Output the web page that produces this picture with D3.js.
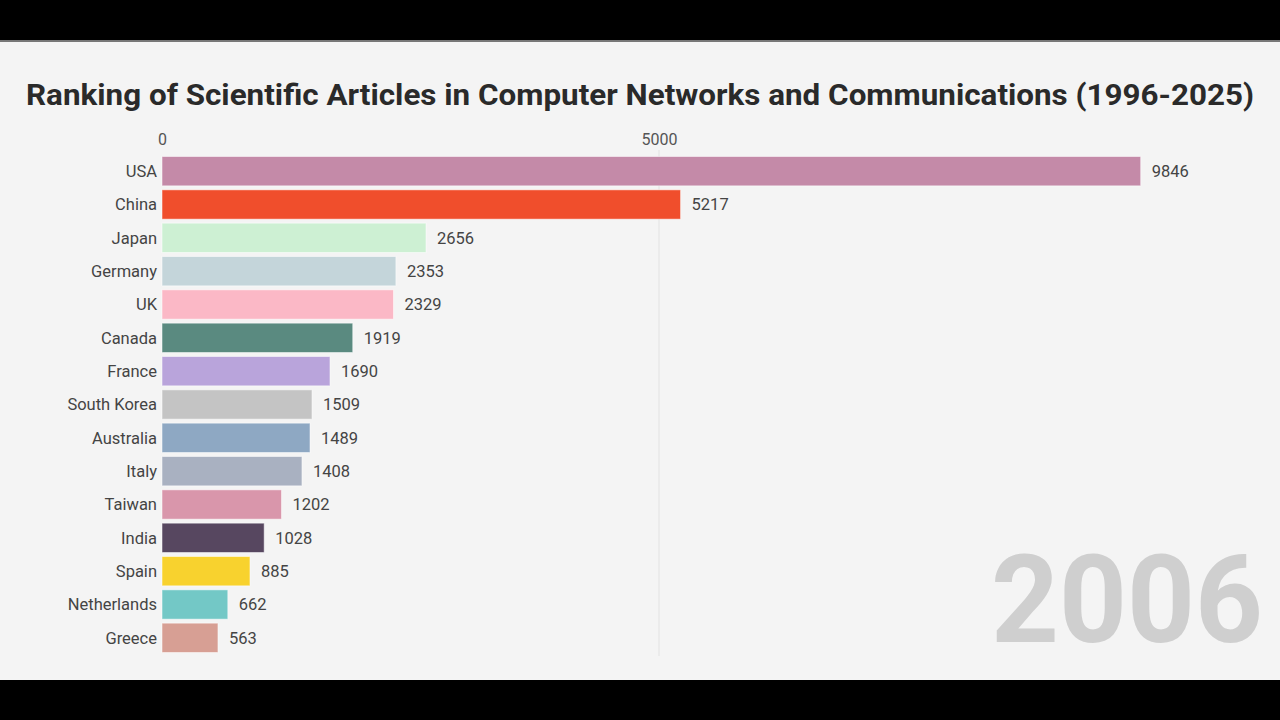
<!DOCTYPE html>
<html><head><meta charset="utf-8">
<script src="https://cdn.jsdelivr.net/npm/d3@7"></script>
<style>html,body{margin:0;padding:0;background:#000;}svg{display:block;}</style>
</head><body>
<svg id="c" width="1280" height="720"></svg>
<script>
const countries = ["USA","China","Japan","Germany","UK","Canada","France","South Korea","Australia","Italy","Taiwan","India","Spain","Netherlands","Greece"];
const values = [9846,5217,2656,2353,2329,1919,1690,1509,1489,1408,1202,1028,885,662,563];
const colors = ["#c48aa8","#f04e2c","#cdf0d3","#c4d5da","#fbb8c6","#5a8a80","#b9a4db","#c4c4c4","#8ea8c3","#a9b1c1","#d996ab","#574760","#f8d22e","#73c8c6","#d79f94"];
const tickValues = [0,5000];
const title = "Ranking of Scientific Articles in Computer Networks and Communications (1996-2025)";
const yearLabel = "2006";

const svg = d3.select("#c");
svg.append("rect").attr("x",0).attr("y",40).attr("width",1280).attr("height",640).attr("fill","#f4f4f4");
svg.append("rect").attr("x",0).attr("y",40).attr("width",1280).attr("height",2).attr("fill","#777");

const x = d3.scaleLinear().domain([0,5000]).range([162,659]);
const y = d3.scaleBand().domain(countries).range([154.5,654.5]).paddingInner(0.12).paddingOuter(0.06);

svg.append("text").attr("x",640).attr("y",105).attr("text-anchor","middle")
  .attr("font-family","Roboto, 'Noto Sans', sans-serif").attr("font-weight",700)
  .attr("font-size",30).attr("fill","#2a2a2a")
  .attr("textLength",1228).attr("lengthAdjust","spacingAndGlyphs").text(title);

// gridlines
svg.append("g").selectAll("line").data(tickValues.filter(d=>d>0)).join("line")
  .attr("x1",d=>x(d)).attr("x2",d=>x(d)).attr("y1",150).attr("y2",656)
  .attr("stroke","#e2e2e2").attr("stroke-width",1);

// top axis
const axis = d3.axisTop(x).tickValues(tickValues).tickSize(0).tickFormat(d3.format("d"));
const ag = svg.append("g").attr("transform","translate(0,148)").call(axis);
ag.select(".domain").remove();
ag.selectAll("text").attr("font-family","Roboto, sans-serif").attr("font-size",16).attr("fill","#555").attr("dy",0);

// bars
svg.append("g").selectAll("rect").data(countries).join("rect")
  .attr("x",x(0)).attr("y",d=>y(d)).attr("height",y.bandwidth())
  .attr("width",(d,i)=>x(values[i])-x(0)).attr("fill",(d,i)=>colors[i])
  .attr("stroke","rgba(255,255,255,0.5)").attr("stroke-width",1);

// country labels
svg.append("g").selectAll("text").data(countries).join("text")
  .attr("x",x(0)-5).attr("y",d=>y(d)+y.bandwidth()/2).attr("dy","0.35em")
  .attr("text-anchor","end").attr("font-family","Roboto, sans-serif").attr("font-size",16.5)
  .attr("fill","#444").text(d=>d);

// value labels
svg.append("g").selectAll("text").data(countries).join("text")
  .attr("x",(d,i)=>x(values[i])+11).attr("y",d=>y(d)+y.bandwidth()/2).attr("dy","0.35em")
  .attr("font-family","Roboto, sans-serif").attr("font-size",16.5)
  .attr("fill","#444").text((d,i)=>values[i]);

// year
svg.append("text").attr("x",1263).attr("y",642).attr("text-anchor","end")
  .attr("font-family","Roboto, sans-serif").attr("font-weight",700).attr("font-size",122)
  .attr("fill","#cfcfcf").attr("textLength",272).attr("lengthAdjust","spacingAndGlyphs").text(yearLabel);
</script>
</body></html>
